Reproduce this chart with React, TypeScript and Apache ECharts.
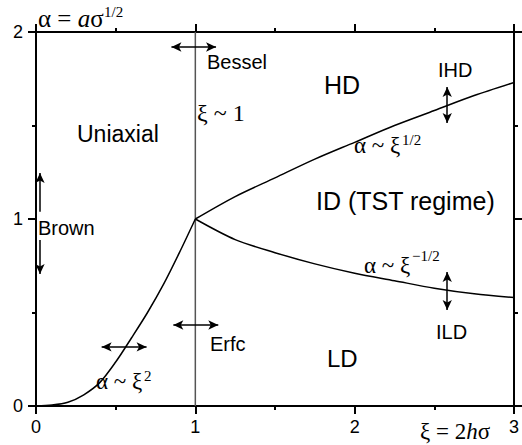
import React, { useEffect, useRef } from "react";
import * as echarts from "echarts";

// ---- data ----
const xMin = 0;
const xMax = 3;
const yMin = 0;
const yMax = 2;

// alpha ~ xi^2 crossover curve (0..1)
const crossoverXi = [0, 0.1, 0.2, 0.3, 0.4, 0.5, 0.6, 0.7, 0.8, 0.9, 1];
const crossoverAlpha = [0, 0.005, 0.02, 0.06, 0.125, 0.235, 0.365, 0.5, 0.65, 0.82, 1];

// branches beyond xi = 1
const branchXi = [1, 1.25, 1.5, 1.75, 2, 2.25, 2.5, 2.75, 3];
const upperAlpha = [1, 1.12, 1.22, 1.32, 1.41, 1.5, 1.58, 1.66, 1.73];
const lowerAlpha = [1, 0.89, 0.82, 0.76, 0.71, 0.67, 0.63, 0.6, 0.58];

// vertical line xi ~ 1
const dividerXi = [1, 1];
const dividerAlpha = [0, 2];

// double / single arrows in data coordinates
const arrowFrom = [
  [0.85, 1.92],
  [0.862, 0.433],
  [0.412, 0.316],
  [2.581, 1.706],
  [2.581, 0.716],
  [0.025, 1.039],
  [0.025, 0.888],
];
const arrowTo = [
  [1.13, 1.92],
  [1.144, 0.433],
  [0.694, 0.316],
  [2.581, 1.514],
  [2.581, 0.514],
  [0.025, 1.246],
  [0.025, 0.706],
];
const arrowBoth = [true, true, true, true, true, false, false];

const SANS = "Liberation Sans";
const SERIF = "Liberation Serif";

function sansText(text: string, x: number, y: number, size: number) {
  return {
    type: "text",
    x,
    y,
    style: {
      text,
      fontFamily: SANS,
      fontSize: size,
      fill: "#000",
      verticalAlign: "middle",
      align: "left",
    },
  };
}

function serifText(text: string, x: number, y: number, size: number, rich?: any) {
  return {
    type: "text",
    x,
    y,
    style: {
      text,
      fontFamily: SERIF,
      fontSize: size,
      fill: "#000",
      verticalAlign: "middle",
      align: "left",
      rich,
    },
  };
}

export default function App() {
  const ref = useRef<HTMLDivElement>(null);

  useEffect(() => {
    if (!ref.current) return;
    const chart = echarts.init(ref.current, null, { renderer: "svg" });

    const axisCommon = {
      type: "value",
      axisLine: { show: true, onZero: false, lineStyle: { color: "#000", width: 2 } },
      axisTick: { show: true, inside: false, length: 8, lineStyle: { color: "#000", width: 2 } },
      minorTick: { show: true, splitNumber: 2, length: 4, lineStyle: { color: "#000", width: 2 } },
      splitLine: { show: false },
      minorSplitLine: { show: false },
    };

    const richItalic = (size: number) => ({
      n: { fontFamily: SERIF, fontSize: size, fill: "#000" },
      i: { fontFamily: SERIF, fontSize: size, fontStyle: "italic", fill: "#000" },
    });

    const option: any = {
      animation: false,
      backgroundColor: "#fff",
      grid: { left: 36, top: 32, width: 480, height: 374, containLabel: false },
      xAxis: [
        {
          ...axisCommon,
          min: xMin,
          max: xMax,
          interval: 1,
          position: "bottom",
          axisLabel: { show: true, color: "#000", fontFamily: SANS, fontSize: 18, margin: 12 },
        },
        {
          ...axisCommon,
          min: xMin,
          max: xMax,
          interval: 1,
          position: "top",
          axisLabel: { show: false },
        },
      ],
      yAxis: [
        {
          ...axisCommon,
          min: yMin,
          max: yMax,
          interval: 1,
          position: "left",
          axisLabel: { show: true, color: "#000", fontFamily: SANS, fontSize: 18, margin: 13 },
        },
        {
          ...axisCommon,
          min: yMin,
          max: yMax,
          interval: 1,
          position: "right",
          axisLabel: { show: false },
        },
      ],
      series: [
        {
          type: "line",
          data: dividerXi.map((x, i) => [x, dividerAlpha[i]]),
          symbol: "none",
          lineStyle: { color: "#555", width: 1.5 },
          z: 1,
          markLine: {
            silent: true,
            symbol: ["arrow", "arrow"],
            symbolSize: [7, 10],
            label: { show: false },
            lineStyle: { color: "#000", width: 1.5, type: "solid" },
            data: arrowFrom.map((f, i) => [
              { coord: f, symbol: arrowBoth[i] ? "arrow" : "none" },
              { coord: arrowTo[i], symbol: "arrow" },
            ]),
          },
        },
        {
          type: "line",
          data: crossoverXi.map((x, i) => [x, crossoverAlpha[i]]),
          symbol: "none",
          smooth: 0.3,
          lineStyle: { color: "#000", width: 1.5 },
          z: 3,
        },
        {
          type: "line",
          data: branchXi.map((x, i) => [x, upperAlpha[i]]),
          symbol: "none",
          smooth: 0.3,
          lineStyle: { color: "#000", width: 1.5 },
          z: 3,
        },
        {
          type: "line",
          data: branchXi.map((x, i) => [x, lowerAlpha[i]]),
          symbol: "none",
          smooth: 0.3,
          lineStyle: { color: "#000", width: 1.5 },
          z: 3,
        },
      ],
      graphic: [
        // sans region labels
        sansText("Uniaxial", 77, 134, 23),
        sansText("HD", 324, 85, 25),
        sansText("ID (TST regime)", 316, 201, 25),
        sansText("IHD", 438, 70, 20),
        sansText("ILD", 436, 332, 20),
        sansText("LD", 327, 358, 24),
        sansText("Bessel", 207, 62, 20),
        sansText("Erfc", 210, 344, 20),
        sansText("Brown", 38, 228, 20),
        // serif formulas
        serifText("{n|α = }{i|a}{n|σ}", 38, 18.5, 25, richItalic(25)),
        serifText("1/2", 104, 11.5, 15),
        serifText("ξ ~ 1", 197, 112.5, 24),
        serifText("α ~ ξ", 354, 145.5, 23),
        serifText("1/2", 402, 140, 15),
        serifText("α ~ ξ", 364, 265.5, 23),
        serifText("−1/2", 412, 256, 15),
        serifText("α ~ ξ", 96, 381.5, 23),
        serifText("2", 144, 376, 15),
        serifText("{n|ξ = 2}{i|h}{n|σ}", 420, 431, 23, richItalic(23)),
      ],
    };

    chart.setOption(option);
    return () => chart.dispose();
  }, []);

  return (
    <div
      ref={ref}
      style={{ position: "absolute", left: 0, top: 0, width: 522, height: 445 }}
    />
  );
}
